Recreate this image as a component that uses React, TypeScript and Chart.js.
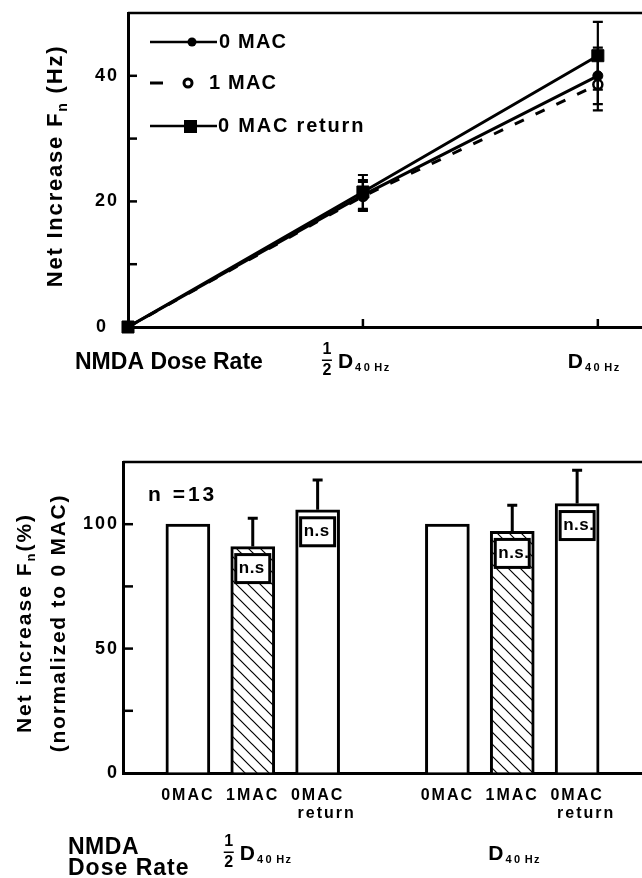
import React, { useEffect, useRef } from 'react';
import { Chart, registerables } from 'chart.js';
Chart.register(...registerables);

// ---------- DATA ----------
const doseX = [0, 0.5, 1];
const mac0 = [0, 21, 40];
const mac0Err = [0, 2.4, 4.5];
const mac1 = [0, 20.8, 38.6];
const mac1Err = [0, 2.3, 4.1];
const macRet = [0, 21.5, 43.2];
const macRetErr = [0, 2.7, 5.4];
const topYLabelled = [0, 20, 40];
const topYMinor = [10, 20, 30, 40];
const topXTicks = [0.5, 1];

const barLabels: (string | string[])[] = ['', '0MAC', '1MAC', ['0MAC', '\u2003return'], '', '0MAC', '1MAC', ['0MAC', '\u2003return'], ''];
const barValues = [null, 100, 91, 105.8, null, 100, 97.1, 108.3, null];
const barErr = [null, 0, 11.4, 12, null, 0, 10.5, 13.4, null];
const barKind = ['', 'open', 'hatch', 'open', '', 'open', 'hatch', 'open', ''];
const nsLabels = ['', '', 'n.s', 'n.s', '', '', 'n.s.', 'n.s.', ''];
const botYLabelled = [0, 50, 100];
const botYMinor = [25, 50, 75, 100];

// ---------- TEXT HELPERS ----------
const FF = '"Liberation Sans", Arial, Helvetica, sans-serif';
function setF(ctx: any, size: number, sp: number) {
  ctx.font = `bold ${size}px ${FF}`;
  ctx.letterSpacing = `${sp}px`;
}
function tw(ctx: any, s: string, size: number, sp: number) {
  setF(ctx, size, sp);
  return ctx.measureText(s).width;
}
function put(ctx: any, s: string, x: number, y: number, size: number, sp: number, align: CanvasTextAlign = 'left') {
  setF(ctx, size, sp);
  ctx.fillStyle = '#000';
  ctx.textAlign = align;
  ctx.textBaseline = 'middle';
  ctx.fillText(s, x, y);
}
type Part = { t: string; sub?: boolean };
function rich(ctx: any, parts: Part[], x: number, y: number, size: number, subSize: number, sp: number) {
  const ws = parts.map((p) => tw(ctx, p.t, p.sub ? subSize : size, sp));
  const total = ws.reduce((a, b) => a + b, 0);
  let cx = x - total / 2;
  parts.forEach((p, i) => {
    put(ctx, p.t, cx, p.sub ? y + size * 0.32 : y, p.sub ? subSize : size, sp, 'left');
    cx += ws[i];
  });
}
function rotated(ctx: any, cx: number, cy: number, fn: () => void) {
  ctx.save();
  ctx.translate(cx, cy);
  ctx.rotate(-Math.PI / 2);
  fn();
  ctx.restore();
}
function doseLabel(ctx: any, left: number, cy: number, half: boolean) {
  if (half) {
    const fx = left - 11;
    put(ctx, '1', fx, cy - 12, 16, 0, 'center');
    put(ctx, '2', fx, cy + 9, 16, 0, 'center');
    ctx.fillRect(fx - 5, cy - 2.5, 10, 1.5);
  }
  put(ctx, 'D', left, cy, 21, 0, 'left');
  const dw = tw(ctx, 'D', 21, 0);
  put(ctx, '40', left + dw + 2, cy + 5.5, 11, 2.5, 'left');
  const w40 = tw(ctx, '40', 11, 2.5);
  put(ctx, 'Hz', left + dw + 2 + w40 + 2, cy + 5.5, 11, 1.5, 'left');
}

function makeHatch(ctx: CanvasRenderingContext2D) {
  const n = 12;
  const c = document.createElement('canvas');
  c.width = n;
  c.height = n;
  const g = c.getContext('2d')!;
  g.fillStyle = '#fff';
  g.fillRect(0, 0, n, n);
  g.strokeStyle = '#000';
  g.lineWidth = 1.2;
  g.beginPath();
  g.moveTo(-2, -2); g.lineTo(n + 2, n + 2);
  g.moveTo(-2 - n, -2); g.lineTo(2, n + 2);
  g.moveTo(n - 2, -2); g.lineTo(2 * n + 2, n + 2);
  g.stroke();
  return ctx.createPattern(c, 'repeat');
}

// ---------- TOP CHART ----------
const topPlugin = {
  id: 'topDecor',
  beforeDraw(chart: any) {
    chart.ctx.letterSpacing = '2px';
  },
  afterDatasetsDraw(chart: any) {
    const ctx = chart.ctx;
    const { chartArea: a, scales } = chart;
    const ys = scales.y;
    const xs = scales.x;
    ctx.save();
    ctx.strokeStyle = '#000';
    ctx.fillStyle = '#000';
    // top border
    ctx.lineWidth = 2.5;
    ctx.beginPath();
    ctx.moveTo(a.left, a.top);
    ctx.lineTo(a.right, a.top);
    ctx.stroke();
    // inside ticks
    topYMinor.forEach((v) => {
      const y = ys.getPixelForValue(v);
      ctx.beginPath();
      ctx.moveTo(a.left, y);
      ctx.lineTo(a.left + 9, y);
      ctx.stroke();
    });
    topXTicks.forEach((v) => {
      const x = xs.getPixelForValue(v);
      ctx.beginPath();
      ctx.moveTo(x, a.bottom);
      ctx.lineTo(x, a.bottom - 8);
      ctx.stroke();
    });
    // error bars
    const errs = [mac0Err, mac1Err, macRetErr];
    const vals = [mac0, mac1, macRet];
    ctx.lineWidth = 2.2;
    errs.forEach((e, di) => {
      const meta = chart.getDatasetMeta(di);
      meta.data.forEach((pt: any, j: number) => {
        if (!e[j]) return;
        const y1 = ys.getPixelForValue(vals[di][j] + e[j]);
        const y2 = ys.getPixelForValue(vals[di][j] - e[j]);
        ctx.beginPath();
        ctx.moveTo(pt.x, y1);
        ctx.lineTo(pt.x, y2);
        ctx.moveTo(pt.x - 5, y1);
        ctx.lineTo(pt.x + 5, y1);
        ctx.moveTo(pt.x - 5, y2);
        ctx.lineTo(pt.x + 5, y2);
        ctx.stroke();
      });
    });
    // legend
    ctx.lineWidth = 2.5;
    ctx.beginPath();
    ctx.moveTo(150, 42); ctx.lineTo(217, 42);
    ctx.moveTo(150, 126); ctx.lineTo(217, 126);
    ctx.stroke();
    ctx.lineWidth = 3;
    ctx.beginPath();
    ctx.moveTo(150, 83); ctx.lineTo(163, 83);
    ctx.stroke();
    ctx.beginPath();
    ctx.arc(192, 42, 4.5, 0, Math.PI * 2);
    ctx.fill();
    ctx.fillStyle = '#fff';
    ctx.lineWidth = 3;
    ctx.beginPath();
    ctx.arc(188, 83, 4, 0, Math.PI * 2);
    ctx.fill();
    ctx.stroke();
    ctx.fillStyle = '#000';
    ctx.fillRect(184, 120, 13, 13);
    put(ctx, '0 MAC', 219, 42, 20, 1.2);
    put(ctx, '1 MAC', 209, 83, 20, 1.2);
    put(ctx, '0 MAC return', 218, 126, 20, 1.8);
    // y title
    rotated(ctx, 56, 166, () => {
      rich(ctx, [{ t: 'Net Increase F' }, { t: 'n', sub: true }, { t: ' (Hz)' }], 0, 0, 22, 14, 1.8);
    });
    // x labels
    put(ctx, 'NMDA Dose Rate', 75, 363, 23, 0);
    doseLabel(ctx, xs.getPixelForValue(0.5) - 25, 362, true);
    doseLabel(ctx, xs.getPixelForValue(1) - 30, 362, false);
    ctx.restore();
  },
};

function topConfig(): any {
  const base = { borderColor: '#000', borderWidth: 3, clip: false, pointHoverRadius: 0 };
  return {
    type: 'line',
    data: {
      datasets: [
        { ...base, label: '0 MAC', data: doseX.map((x, i) => ({ x, y: mac0[i] })), pointStyle: 'circle', pointRadius: 5, pointBackgroundColor: '#000', pointBorderColor: '#000', pointBorderWidth: 1 },
        { ...base, label: '1 MAC', data: doseX.map((x, i) => ({ x, y: mac1[i] })), borderDash: [10, 13], pointStyle: 'circle', pointRadius: 4.5, pointBackgroundColor: '#fff', pointBorderColor: '#000', pointBorderWidth: 2.5 },
        { ...base, label: '0 MAC return', data: doseX.map((x, i) => ({ x, y: macRet[i] })), pointStyle: 'rect', pointRadius: 8.5, pointBackgroundColor: '#000', pointBorderColor: '#000', pointBorderWidth: 1 },
      ],
    },
    options: {
      responsive: false,
      animation: false,
      events: [],
      layout: { autoPadding: false, padding: { top: 13, left: 0, right: 0, bottom: 0 } },
      plugins: { legend: { display: false }, tooltip: { enabled: false } },
      scales: {
        x: {
          type: 'linear', min: 0, max: 1.094,
          ticks: { display: false },
          grid: { drawOnChartArea: false, drawTicks: false },
          border: { display: true, width: 3, color: '#000' },
          afterFit: (s: any) => { s.height = 93; s.paddingLeft = 0; s.paddingRight = 0; },
        },
        y: {
          min: 0, max: 50,
          ticks: {
            stepSize: 10, color: '#000', padding: 9,
            font: { family: FF, size: 18, weight: 'bold' },
            callback: (v: number) => (topYLabelled.includes(v) ? (v === 0 ? '0\u2002' : String(v)) : ''),
          },
          grid: { drawOnChartArea: false, drawTicks: false },
          border: { display: true, width: 3, color: '#000' },
          afterFit: (s: any) => { s.width = 128; s.paddingTop = 0; s.paddingBottom = 0; },
        },
      },
    },
    plugins: [topPlugin],
  };
}

// ---------- BOTTOM CHART ----------
const botPlugin = {
  id: 'botDecor',
  beforeDraw(chart: any) {
    chart.ctx.letterSpacing = '2px';
  },
  afterDatasetsDraw(chart: any) {
    const ctx = chart.ctx;
    const { chartArea: a, scales } = chart;
    const ys = scales.y;
    ctx.save();
    ctx.strokeStyle = '#000';
    ctx.fillStyle = '#000';
    ctx.lineWidth = 2.5;
    ctx.beginPath();
    ctx.moveTo(a.left, a.top);
    ctx.lineTo(a.right, a.top);
    ctx.stroke();
    botYMinor.forEach((v) => {
      const y = ys.getPixelForValue(v);
      ctx.beginPath();
      ctx.moveTo(a.left, y);
      ctx.lineTo(a.left + 10, y);
      ctx.stroke();
    });
    const meta = chart.getDatasetMeta(0);
    meta.data.forEach((bar: any, i: number) => {
      const v = barValues[i];
      if (v == null) return;
      const e = barErr[i] || 0;
      if (e > 0) {
        const yt = ys.getPixelForValue(v + e);
        ctx.lineWidth = 3;
        ctx.beginPath();
        ctx.moveTo(bar.x, bar.y);
        ctx.lineTo(bar.x, yt);
        ctx.moveTo(bar.x - 5, yt);
        ctx.lineTo(bar.x + 5, yt);
        ctx.stroke();
      }
      if (nsLabels[i]) {
        const cy = bar.y + 22;
        ctx.fillStyle = '#fff';
        ctx.fillRect(bar.x - 17, cy - 14, 34, 28);
        ctx.lineWidth = 3;
        ctx.strokeRect(bar.x - 17, cy - 14, 34, 28);
        ctx.fillStyle = '#000';
        put(ctx, nsLabels[i], bar.x - 14, cy, 17, 0.5, 'left');
      }
    });
    put(ctx, 'n =13', 148, 75, 21, 3);
    rotated(ctx, 25, 203, () => {
      rich(ctx, [{ t: 'Net increase F' }, { t: 'n', sub: true }, { t: '(%)' }], 0, 0, 21, 13, 2);
    });
    rotated(ctx, 59, 203, () => {
      put(ctx, '(normalized to 0 MAC)', 0, 0, 21, 1.75, 'center');
    });
    put(ctx, 'NMDA', 68, 428, 23, 0.5);
    put(ctx, 'Dose Rate', 68, 449, 23, 1);
    const xs = scales.x;
    doseLabel(ctx, xs.getPixelForValue(2) - 13, 434, true);
    doseLabel(ctx, xs.getPixelForValue(6) - 24, 434, false);
    ctx.restore();
  },
};

function botConfig(canvas: HTMLCanvasElement): any {
  const hatch = makeHatch(canvas.getContext('2d')!);
  return {
    type: 'bar',
    data: {
      labels: barLabels,
      datasets: [
        {
          data: barValues,
          backgroundColor: barKind.map((k) => (k === 'hatch' ? hatch : '#fff')),
          borderColor: '#000',
          borderWidth: 3,
          barThickness: 44,
        },
      ],
    },
    options: {
      responsive: false,
      animation: false,
      events: [],
      layout: { autoPadding: false, padding: { top: 42, left: 0, right: 0, bottom: 0 } },
      plugins: { legend: { display: false }, tooltip: { enabled: false } },
      scales: {
        x: {
          offset: false,
          ticks: {
            color: '#000', padding: 13, autoSkip: false, maxRotation: 0, minRotation: 0,
            font: { family: FF, size: 16, weight: 'bold', lineHeight: 1.15 },
          },
          grid: { drawOnChartArea: false, drawTicks: false },
          border: { display: true, width: 3, color: '#000' },
          afterFit: (s: any) => { s.height = 105; s.paddingLeft = 0; s.paddingRight = 0; },
        },
        y: {
          min: 0, max: 125,
          ticks: {
            stepSize: 25, color: '#000', padding: 4,
            font: { family: FF, size: 18, weight: 'bold' },
            callback: (v: number) => (botYLabelled.includes(v) ? String(v) : ''),
          },
          grid: { drawOnChartArea: false, drawTicks: false },
          border: { display: true, width: 3, color: '#000' },
          afterFit: (s: any) => { s.width = 123; s.paddingTop = 0; s.paddingBottom = 0; },
        },
      },
    },
    plugins: [botPlugin],
  };
}

export default function App() {
  const topRef = useRef<HTMLCanvasElement>(null);
  const botRef = useRef<HTMLCanvasElement>(null);
  useEffect(() => {
    const top = new Chart(topRef.current!, topConfig());
    const bot = new Chart(botRef.current!, botConfig(botRef.current!));
    return () => {
      top.destroy();
      bot.destroy();
    };
  }, []);
  return (
    <div style={{ position: 'absolute', left: 0, top: 0, width: 642, height: 878, background: '#fff', overflow: 'hidden' }}>
      <canvas ref={topRef} width={642} height={420} style={{ position: 'absolute', left: 0, top: 0, width: 642, height: 420 }} />
      <canvas ref={botRef} width={642} height={458} style={{ position: 'absolute', left: 0, top: 420, width: 642, height: 458 }} />
    </div>
  );
}
